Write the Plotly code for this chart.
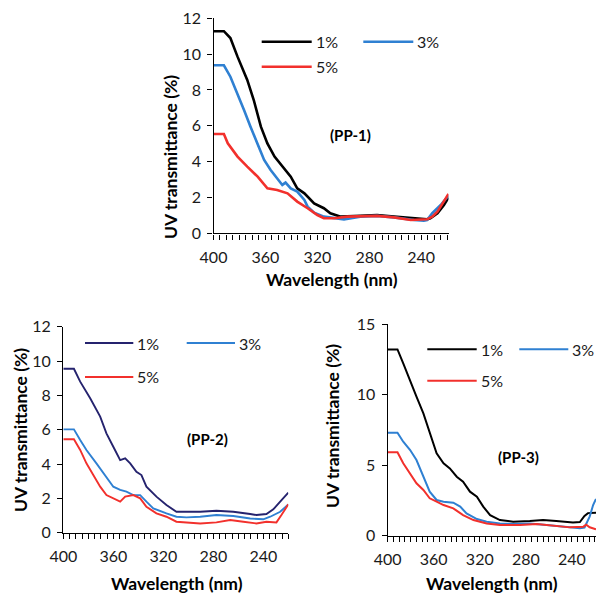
import plotly.graph_objects as go

# ---------------- data ----------------
series_names = ["1%", "3%", "5%"]
x_tick_vals = [400, 360, 320, 280, 240]

# PP-1
pp1_wl_1 = [400, 392, 387, 381.5, 374, 369, 363.5, 358.5, 353, 348, 344.5, 340.5, 335.5, 330, 322.5, 315, 310, 302, 287, 274, 261, 248, 235.5, 233, 227.5, 222.5, 219]
pp1_t_1 = [11.28, 11.28, 10.9, 9.86, 8.56, 7.44, 5.95, 5.02, 4.28, 3.81, 3.53, 3.16, 2.51, 2.23, 1.67, 1.40, 1.12, 0.93, 0.97, 1.02, 0.93, 0.84, 0.78, 0.84, 1.12, 1.58, 2.0]
pp1_wl_3 = [400, 392, 387, 381.5, 376.5, 371.5, 366, 361, 356, 351, 347, 344.5, 340.5, 335.5, 330, 327.5, 322.5, 315, 304.5, 299.5, 287, 274, 261, 245.5, 238, 235.5, 231.5, 225, 219]
pp1_t_3 = [9.38, 9.38, 8.74, 7.81, 6.88, 5.95, 5.02, 4.09, 3.53, 3.07, 2.70, 2.83, 2.51, 2.33, 1.86, 1.49, 1.15, 0.93, 0.84, 0.78, 0.93, 0.97, 0.89, 0.74, 0.71, 0.74, 1.12, 1.58, 2.1]
pp1_wl_5 = [400, 392, 389, 381.5, 374, 366, 358.5, 351, 343, 335.5, 327.5, 320, 315, 307, 297, 287, 274, 261, 248, 235.5, 231.5, 227.5, 219]
pp1_t_5 = [5.54, 5.54, 5.02, 4.28, 3.72, 3.16, 2.51, 2.42, 2.23, 1.77, 1.40, 1.02, 0.84, 0.84, 0.93, 0.93, 0.97, 0.89, 0.74, 0.78, 0.93, 1.21, 2.2]

# PP-2
pp2_wl_1 = [400, 391.5, 386.5, 378.5, 370.5, 365.5, 360, 354.5, 350.5, 346.5, 341.5, 337.5, 333.5, 325.5, 317.5, 309.5, 301.5, 290.5, 277.5, 264, 250.5, 245.5, 237.5, 232, 226.5, 220]
pp2_t_1 = [9.55, 9.55, 8.80, 7.83, 6.76, 5.79, 5.01, 4.23, 4.33, 4.04, 3.55, 3.36, 2.68, 2.10, 1.61, 1.22, 1.22, 1.22, 1.28, 1.22, 1.09, 1.03, 1.09, 1.36, 1.81, 2.33]
pp2_wl_3 = [400, 391.5, 386.5, 381.5, 373.5, 365.5, 360, 354.5, 349.5, 344, 338.5, 333.5, 328, 317.5, 309.5, 301.5, 290.5, 277.5, 264, 250.5, 240, 234.5, 226.5, 220]
pp2_t_3 = [6.02, 6.02, 5.40, 4.82, 4.04, 3.26, 2.68, 2.49, 2.39, 2.19, 2.19, 1.81, 1.42, 1.13, 0.93, 0.89, 0.93, 1.03, 0.97, 0.83, 0.78, 0.93, 1.22, 1.65]
pp2_wl_5 = [400, 391.5, 386.5, 381.5, 376, 370.5, 365.5, 360, 354.5, 350.5, 344, 338.5, 333.5, 325.5, 317.5, 309.5, 301.5, 290.5, 277.5, 266.5, 256, 245.5, 237.5, 229.5, 225.5, 220]
pp2_t_5 = [5.44, 5.44, 4.82, 4.04, 3.36, 2.68, 2.19, 2.0, 1.81, 2.10, 2.19, 2.0, 1.51, 1.13, 0.93, 0.64, 0.60, 0.54, 0.60, 0.74, 0.64, 0.54, 0.64, 0.60, 1.03, 1.65]

# PP-3
pp3_wl_1 = [400, 391.5, 386.5, 380.5, 375, 369, 363.5, 357.5, 351.5, 346, 340, 334.5, 328.5, 322.5, 317, 311, 302.5, 291, 276.5, 265, 253.5, 239, 233, 229, 226, 219]
pp3_t_1 = [13.2, 13.2, 12.21, 10.91, 9.85, 8.67, 7.25, 5.84, 5.13, 4.77, 4.18, 3.83, 3.12, 2.76, 2.06, 1.46, 1.11, 0.99, 1.04, 1.11, 1.04, 0.94, 0.97, 1.4, 1.6, 1.62]
pp3_wl_3 = [400, 391.5, 386.5, 380.5, 375, 369, 363.5, 357.5, 351.5, 343, 337, 331.5, 322.5, 314, 302.5, 291, 276.5, 262, 247.5, 233, 229, 224.5, 221.5, 219]
pp3_t_3 = [7.30, 7.30, 6.66, 6.07, 5.36, 4.18, 3.12, 2.53, 2.41, 2.34, 2.06, 1.58, 1.18, 0.99, 0.87, 0.83, 0.87, 0.76, 0.64, 0.52, 0.58, 1.35, 2.17, 2.6]
pp3_wl_5 = [400, 391.5, 386.5, 380.5, 375, 369, 363.5, 357.5, 351.5, 343, 334.5, 325.5, 314, 302.5, 285, 270.5, 256, 241.5, 230, 227.5, 224.5, 219]
pp3_t_5 = [5.91, 5.91, 5.13, 4.42, 3.71, 3.24, 2.65, 2.41, 2.17, 1.94, 1.46, 1.11, 0.87, 0.76, 0.76, 0.83, 0.69, 0.59, 0.64, 0.78, 0.6, 0.45]

panel_labels = ["(PP-1)", "(PP-2)", "(PP-3)"]
x_title = "Wavelength (nm)"
y_title = "UV transmittance (%)"

# ---------------- layout helpers ----------------
W, H = 596, 593
FONT = "Lato, 'Open Sans', Arial, sans-serif"
TXT = "#1a1a1a"


def px(x):
    return x / W


def py(y):
    return 1 - y / H


BLACK = "#000000"
BLUE = "#2F80D2"
RED = "#F2302C"
NAVY = "#25236E"

panels = [
    dict(
        series=[(pp1_wl_1, pp1_t_1, BLACK), (pp1_wl_3, pp1_t_3, BLUE), (pp1_wl_5, pp1_t_5, RED)],
        lw=2.6, xdom=(213.5, 448.5), ydom=(233.3, 18.3), xr=[400, 219], yr=[0, 12], dy=2,
        label_pos=(350, 135), ytitle_pos=(170, 157), xtitle_pos=(332, 280),
        leg=dict(l1=(261.7, 311.7), l3=(363.3, 413.3), y1=41.7, y5=66.7),
    ),
    dict(
        series=[(pp2_wl_1, pp2_t_1, NAVY), (pp2_wl_3, pp2_t_3, BLUE), (pp2_wl_5, pp2_t_5, RED)],
        lw=1.9, xdom=(63.3, 288.3), ydom=(532.7, 326.7), xr=[400, 220], yr=[0, 12], dy=2,
        label_pos=(207, 439), ytitle_pos=(20, 430), xtitle_pos=(177, 583),
        leg=dict(l1=(85, 133.3), l3=(186.7, 235), y1=343, y5=377),
    ),
    dict(
        series=[(pp3_wl_1, pp3_t_1, BLACK), (pp3_wl_3, pp3_t_3, BLUE), (pp3_wl_5, pp3_t_5, RED)],
        lw=2.0, xdom=(387.7, 596), ydom=(535.7, 324), xr=[400, 219], yr=[0, 15], dy=5,
        label_pos=(518, 457), ytitle_pos=(332, 426), xtitle_pos=(492, 583),
        leg=dict(l1=(427.3, 476.7), l3=(519.3, 568.3), y1=349.3, y5=380.7),
    ),
]

fig = go.Figure()
shapes = []
annotations = []
layout_axes = {}

for i, p in enumerate(panels):
    k = "" if i == 0 else str(i + 1)
    xa, ya = "x" + k, "y" + k
    for (wl, t, col), name in zip(p["series"], series_names):
        fig.add_trace(go.Scatter(x=wl, y=t, mode="lines", name=name, xaxis=xa, yaxis=ya,
                                 line=dict(color=col, width=p["lw"]), showlegend=False))
    layout_axes["xaxis" + k] = dict(
        domain=[px(p["xdom"][0]), px(p["xdom"][1])], anchor=ya, range=p["xr"],
        automargin=False,
        tickmode="array", tickvals=x_tick_vals, ticks="outside", ticklen=5, tickwidth=1.3,
        tickcolor="black", showline=True, linecolor="black", linewidth=1.4,
        showgrid=False, zeroline=False, ticklabelstandoff=4,
        minor=dict(dtick=5, tick0=400, ticks="outside", ticklen=5, tickwidth=1.3,
                   tickcolor="black", showgrid=False),
        tickfont=dict(family=FONT, size=16, color=TXT),
    )
    layout_axes["yaxis" + k] = dict(
        domain=[py(p["ydom"][0]), py(p["ydom"][1])], anchor=xa, range=p["yr"],
        automargin=False,
        dtick=p["dy"], tick0=0, ticks="outside", ticklen=5, tickwidth=1.3, tickcolor="black",
        showline=True, linecolor="black", linewidth=1.4, showgrid=False, zeroline=False,
        ticklabelstandoff=3,
        tickfont=dict(family=FONT, size=16, color=TXT),
    )
    annotations.append(dict(text="<b>%s</b>" % panel_labels[i], x=px(p["label_pos"][0]),
                            y=py(p["label_pos"][1]), xref="paper", yref="paper",
                            showarrow=False, xanchor="center", yanchor="middle",
                            font=dict(family=FONT, size=15, color="black")))
    annotations.append(dict(text="<b>%s</b>" % y_title, x=px(p["ytitle_pos"][0]),
                            y=py(p["ytitle_pos"][1]), xref="paper", yref="paper", textangle=-90,
                            showarrow=False, xanchor="center", yanchor="middle",
                            font=dict(family=FONT, size=17.5, color="black")))
    annotations.append(dict(text="<b>%s</b>" % x_title, x=px(p["xtitle_pos"][0]),
                            y=py(p["xtitle_pos"][1]), xref="paper", yref="paper",
                            showarrow=False, xanchor="center", yanchor="middle",
                            font=dict(family=FONT, size=17.5, color="black")))
    lg = p["leg"]
    entries = [(lg["l1"], lg["y1"], p["series"][0][2], series_names[0]),
               (lg["l3"], lg["y1"], p["series"][1][2], series_names[1]),
               (lg["l1"], lg["y5"], p["series"][2][2], series_names[2])]
    for (x0, x1), yy, col, name in entries:
        shapes.append(dict(type="line", xref="paper", yref="paper", x0=px(x0), x1=px(x1),
                           y0=py(yy), y1=py(yy), line=dict(color=col, width=p["lw"])))
        annotations.append(dict(text=name, x=px(x1 + 2), y=py(yy), xref="paper", yref="paper",
                                showarrow=False, xanchor="left", yanchor="middle",
                                font=dict(family=FONT, size=16, color=TXT)))

fig.update_layout(
    width=W, height=H, margin=dict(l=0, r=0, t=0, b=0, pad=0), autosize=False,
    paper_bgcolor="white", plot_bgcolor="white",
    shapes=shapes, annotations=annotations, showlegend=False,
    **layout_axes,
)

fig.write_html(
    "out.html",
    config={"displayModeBar": False},
    post_script="document.body.style.margin='0';document.body.style.overflow='hidden';",
)
